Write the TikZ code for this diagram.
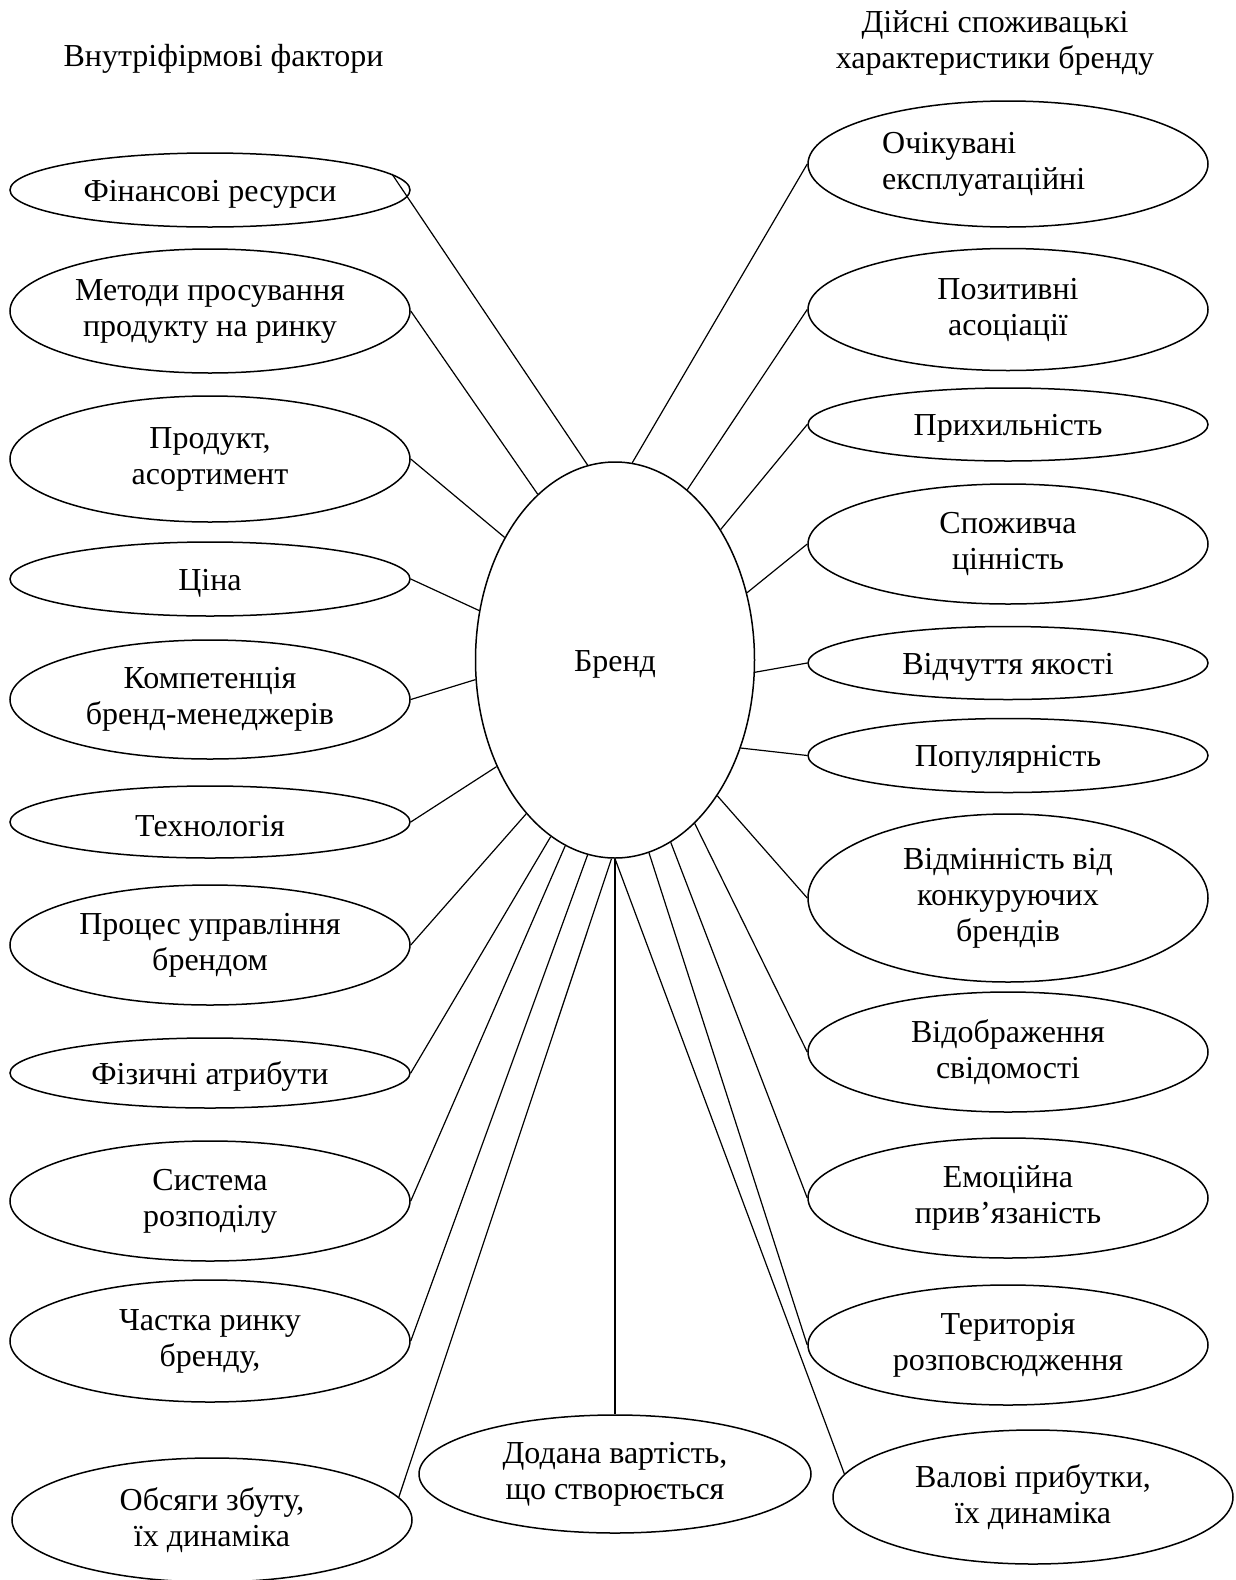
\documentclass[tikz,border=0pt]{standalone}
\usepackage{fontspec}
\setmainfont{Liberation Serif}
\usetikzlibrary{shapes.geometric}
\begin{document}
\begin{tikzpicture}[x=1pt,y=-1pt,
  txt/.style={font=\fontsize{32}{36}\selectfont,align=center,inner sep=0pt},
  shtxt/.style={txt,execute at begin node={\rule{0pt}{29pt}}},
  ell/.style={draw,ellipse,line width=1.5pt,inner sep=0pt,shtxt},
  lft/.style={ell,minimum width=400pt},
  rgt/.style={ell,minimum width=400pt},
  conn/.style={line width=1.2pt}]
\useasboundingbox[fill=white] (0,0) rectangle (1236,1580);

% titles
\node[txt] (t1) at (223.5,59) {Внутріфірмові фактори};
\node[txt] (t2) at (995,43) {Дійсні споживацькі\\характеристики бренду};

% centre
\node[ell,minimum width=279pt,minimum height=396pt] (brand) at (615,660) {Бренд};

% left column
\node[lft,minimum height=74pt]  (fin)   at (210,190)  {Фінансові ресурси};
\node[lft,minimum height=124pt] (met)   at (210,311)  {Методи просування\\продукту на ринку};
\node[lft,minimum height=126pt] (prod)  at (210,459)  {Продукт,\\асортимент};
\node[lft,minimum height=74pt]  (price) at (210,579)  {Ціна};
\node[lft,minimum height=119pt] (comp)  at (210,699.5){Компетенція\\бренд-менеджерів};
\node[lft,minimum height=72pt]  (tech)  at (210,822)  {Технологія};
\node[lft,minimum height=120pt] (proc)  at (210,945)  {Процес управління\\брендом};
\node[lft,minimum height=70pt]  (phys)  at (210,1073) {Фізичні атрибути};
\node[lft,minimum height=120pt] (sys)   at (210,1201) {Система\\розподілу};
\node[lft,minimum height=122pt] (share) at (210,1341) {Частка ринку\\бренду,};
\node[lft,minimum height=124pt] (vol)   at (212,1520) {Обсяги збуту,\\їх динаміка};

% bottom centre
\node[ell,minimum width=392pt,minimum height=118pt] (add) at (615,1474) {Додана вартість,\\що створюється};

% right column
\node[rgt,minimum height=126pt] (exp)   at (1008,164)  {};
\node[shtxt,align=left,anchor=west] (expt) at (882,164) {Очікувані\\експлуатаційні};
\node[rgt,minimum height=122pt] (pos)   at (1008,309.5){Позитивні\\асоціації};
\node[rgt,minimum height=73pt]  (loyal) at (1008,424.5){Прихильність};
\node[rgt,minimum height=120pt] (val)   at (1008,544)  {Споживча\\цінність};
\node[rgt,minimum height=73pt]  (qual)  at (1008,663)  {Відчуття якості};
\node[rgt,minimum height=74pt]  (pop)   at (1008,755.5){Популярність};
\node[rgt,minimum height=168pt] (diff)  at (1008,898)  {Відмінність від\\конкуруючих\\брендів};
\node[rgt,minimum height=120pt] (refl)  at (1008,1052) {Відображення\\свідомості};
\node[rgt,minimum height=120pt] (emo)   at (1008,1198) {Емоційна\\прив’язаність};
\node[rgt,minimum height=120pt] (terr)  at (1008,1345) {Територія\\розповсюдження};
\node[rgt,minimum height=134pt] (gross) at (1033,1497) {Валові прибутки,\\їх динаміка};

% connectors, left
\draw[conn] (fin.5)    -- (brand.98.5);
\draw[conn] (met.east) -- (brand.115.6);
\draw[conn] (prod.east) -- (brand.132.3);
\draw[conn] (price.east) -- (brand.160.9);
\draw[conn] (comp.east) -- (brand.188.2);
\draw[conn] (tech.east) -- (brand.222.7);
\draw[conn] (proc.east) -- (brand.240.5);
\draw[conn] (phys.east) -- (brand.250.1);
\draw[conn] (sys.east) -- (brand.255.7);
\draw[conn] (share.east) -- (brand.262.2);
\draw[conn] (vol.7) -- (brand.269);
\draw[conn] (brand.south) -- (add.north);
% connectors, right
\draw[conn] (exp.west) -- (brand.85.1);
\draw[conn] (pos.west) -- (brand.67);
\draw[conn] (loyal.west) -- (brand.51.5);
\draw[conn] (val.west) -- (brand.27.1);
\draw[conn] (qual.west) -- (brand.355.1);
\draw[conn] (pop.west) -- (brand.325.7);
\draw[conn] (diff.west) -- (brand.307.8);
\draw[conn] (refl.west) -- (brand.296.4);
\draw[conn] (emo.west) -- (brand.287.7);
\draw[conn] (terr.west) -- (brand.280.3);
\draw[conn] (gross.173) -- (brand.270.6);
\end{tikzpicture}
\end{document}
